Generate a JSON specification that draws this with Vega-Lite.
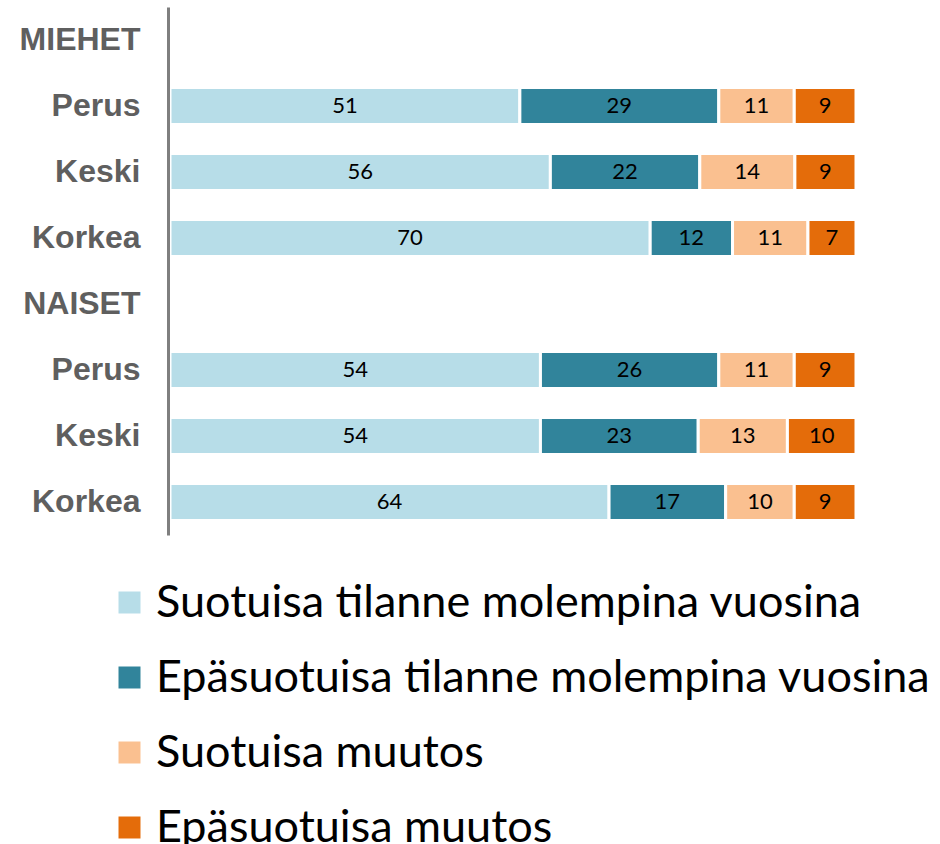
{
  "$schema": "https://vega.github.io/schema/vega-lite/v6.json",
  "width": 686,
  "height": 528,
  "autosize": {"type": "none"},
  "padding": {"left": 170, "top": 7, "right": 84, "bottom": 309},
  "background": "white",
  "config": {"view": {"stroke": null}, "font": "Lato"},
  "data": {
    "values": [
      {"ryhma": "M|Perus", "luokka": "Suotuisa tilanne molempina vuosina", "jarj": 1, "arvo": 51},
      {"ryhma": "M|Perus", "luokka": "Epäsuotuisa tilanne molempina vuosina", "jarj": 2, "arvo": 29},
      {"ryhma": "M|Perus", "luokka": "Suotuisa muutos", "jarj": 3, "arvo": 11},
      {"ryhma": "M|Perus", "luokka": "Epäsuotuisa muutos", "jarj": 4, "arvo": 9},
      {"ryhma": "M|Keski", "luokka": "Suotuisa tilanne molempina vuosina", "jarj": 1, "arvo": 56},
      {"ryhma": "M|Keski", "luokka": "Epäsuotuisa tilanne molempina vuosina", "jarj": 2, "arvo": 22},
      {"ryhma": "M|Keski", "luokka": "Suotuisa muutos", "jarj": 3, "arvo": 14},
      {"ryhma": "M|Keski", "luokka": "Epäsuotuisa muutos", "jarj": 4, "arvo": 9},
      {"ryhma": "M|Korkea", "luokka": "Suotuisa tilanne molempina vuosina", "jarj": 1, "arvo": 70},
      {"ryhma": "M|Korkea", "luokka": "Epäsuotuisa tilanne molempina vuosina", "jarj": 2, "arvo": 12},
      {"ryhma": "M|Korkea", "luokka": "Suotuisa muutos", "jarj": 3, "arvo": 11},
      {"ryhma": "M|Korkea", "luokka": "Epäsuotuisa muutos", "jarj": 4, "arvo": 7},
      {"ryhma": "N|Perus", "luokka": "Suotuisa tilanne molempina vuosina", "jarj": 1, "arvo": 54},
      {"ryhma": "N|Perus", "luokka": "Epäsuotuisa tilanne molempina vuosina", "jarj": 2, "arvo": 26},
      {"ryhma": "N|Perus", "luokka": "Suotuisa muutos", "jarj": 3, "arvo": 11},
      {"ryhma": "N|Perus", "luokka": "Epäsuotuisa muutos", "jarj": 4, "arvo": 9},
      {"ryhma": "N|Keski", "luokka": "Suotuisa tilanne molempina vuosina", "jarj": 1, "arvo": 54},
      {"ryhma": "N|Keski", "luokka": "Epäsuotuisa tilanne molempina vuosina", "jarj": 2, "arvo": 23},
      {"ryhma": "N|Keski", "luokka": "Suotuisa muutos", "jarj": 3, "arvo": 13},
      {"ryhma": "N|Keski", "luokka": "Epäsuotuisa muutos", "jarj": 4, "arvo": 10},
      {"ryhma": "N|Korkea", "luokka": "Suotuisa tilanne molempina vuosina", "jarj": 1, "arvo": 64},
      {"ryhma": "N|Korkea", "luokka": "Epäsuotuisa tilanne molempina vuosina", "jarj": 2, "arvo": 17},
      {"ryhma": "N|Korkea", "luokka": "Suotuisa muutos", "jarj": 3, "arvo": 10},
      {"ryhma": "N|Korkea", "luokka": "Epäsuotuisa muutos", "jarj": 4, "arvo": 9}
    ]
  },
  "transform": [
    {"stack": "arvo", "groupby": ["ryhma"], "sort": [{"field": "jarj", "order": "ascending"}], "offset": "normalize", "as": ["x0", "x1"]},
    {"calculate": "(datum.x0 + datum.x1) / 2", "as": "xm"}
  ],
  "encoding": {
    "y": {
      "field": "ryhma",
      "type": "nominal",
      "scale": {
        "domain": ["MIEHET", "M|Perus", "M|Keski", "M|Korkea", "NAISET", "N|Perus", "N|Keski", "N|Korkea"],
        "paddingInner": 0.44,
        "paddingOuter": 0.22
      },
      "axis": {
        "title": null,
        "ticks": false,
        "grid": false,
        "zindex": 1,
        "offset": 2,
        "domainColor": "#7f7f7f",
        "domainWidth": 3,
        "labelFont": "Liberation Sans",
        "labelFontWeight": "bold",
        "labelFontSize": 32,
        "labelColor": "#5f5f5f",
        "labelPadding": 28,
        "labelLimit": 300,
        "labelExpr": "indexof(datum.label, '|') >= 0 ? substring(datum.label, 2) : datum.label"
      }
    }
  },
  "layer": [
    {
      "mark": {"type": "bar", "stroke": "white", "strokeWidth": 3},
      "encoding": {
        "x": {"field": "x0", "type": "quantitative", "scale": {"domain": [0, 1], "nice": false}, "axis": null},
        "x2": {"field": "x1"},
        "color": {
          "field": "luokka",
          "type": "nominal",
          "scale": {
            "domain": ["Suotuisa tilanne molempina vuosina", "Epäsuotuisa tilanne molempina vuosina", "Suotuisa muutos", "Epäsuotuisa muutos"],
            "range": ["#B7DDE8", "#31849B", "#FAC090", "#E46C0A"]
          },
          "legend": {
            "orient": "none",
            "legendX": -63,
            "legendY": 573,
            "title": null,
            "padding": 0,
            "symbolType": "square",
            "symbolSize": 484,
            "symbolStrokeWidth": 0,
            "symbolOpacity": 1,
            "labelFont": "Lato",
            "labelFontSize": 45,
            "labelColor": "black",
            "labelOffset": 4,
            "labelLimit": 900,
            "rowPadding": 29
          }
        }
      }
    },
    {
      "mark": {"type": "text", "fontSize": 22, "font": "Lato", "color": "black"},
      "encoding": {
        "x": {"field": "xm", "type": "quantitative"},
        "text": {"field": "arvo", "type": "quantitative"}
      }
    }
  ]
}
